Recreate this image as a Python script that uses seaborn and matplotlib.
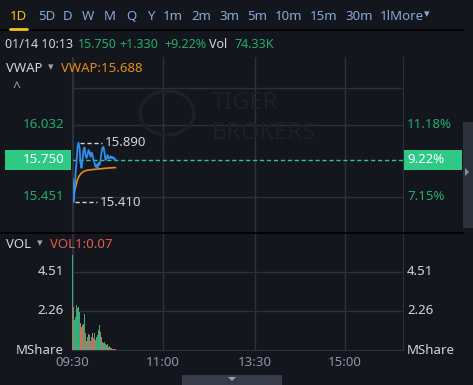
import numpy as np
import pandas as pd
import matplotlib
matplotlib.use("Agg")
import matplotlib.pyplot as plt
import seaborn as sns
from matplotlib.lines import Line2D
from matplotlib.patches import Rectangle, Circle, Polygon

W, H = 473, 385
BG = "#13161c"
GRID = "#2a313b"
TXT = "#d2d5da"
GREEN_TXT = "#22ad6c"
GREEN_BOX = "#2ec985"
GREEN_BAR = "#26c07b"
RED = "#e85a4d"
BLUE = "#2d8ef0"
ORANGE = "#e38d17"
TICKC = "#8c96a8"

# minute index from 09:30
minutes = list(range(44))
price = [15.60, 15.41, 15.49, 15.63, 15.73, 15.85, 15.89, 15.85, 15.73, 15.685,
         15.75, 15.83, 15.85, 15.79, 15.765, 15.79, 15.83, 15.81, 15.775, 15.81,
         15.79, 15.75, 15.725, 15.695, 15.71, 15.685, 15.725, 15.71, 15.75, 15.81,
         15.85, 15.855, 15.81, 15.75, 15.765, 15.79, 15.76, 15.765, 15.78, 15.765,
         15.775, 15.76, 15.765, 15.75]
vwap = [15.60, 15.51, 15.50, 15.53, 15.56, 15.59, 15.61, 15.625, 15.635, 15.645,
        15.65, 15.655, 15.66, 15.663, 15.665, 15.667, 15.668, 15.669, 15.670, 15.671,
        15.672, 15.673, 15.674, 15.675, 15.675, 15.676, 15.677, 15.678, 15.679, 15.679,
        15.680, 15.681, 15.682, 15.683, 15.683, 15.684, 15.685, 15.685, 15.686, 15.686,
        15.687, 15.687, 15.688, 15.688]
volume = [5.48, 2.48, 1.73, 1.90, 2.60, 2.42, 2.48, 2.19, 1.56, 1.33,
          1.44, 1.50, 2.08, 0.98, 0.52, 0.75, 0.92, 0.87, 0.52, 0.75,
          0.98, 0.69, 0.98, 0.58, 0.75, 0.87, 1.15, 1.44, 1.04, 0.75,
          0.46, 0.40, 0.44, 0.35, 0.29, 0.32, 0.17, 0.23, 0.12, 0.12,
          0.06, 0.06, 0.04, 0.03]
direction = ["up", "down", "up", "up", "up", "up", "up", "up", "down", "down",
             "up", "down", "up", "down", "down", "up", "down", "up", "down", "up",
             "down", "down", "up", "down", "up", "up", "up", "up", "down", "up",
             "up", "down", "up", "up", "down", "up", "down", "up", "down", "up",
             "down", "down", "down", "down"]

time_ticks = [0, 90, 182, 272]
time_labels = ["09:30", "11:00", "13:30", "15:00"]
price_grid = [16.331, 16.032, 15.451]
price_labels = [16.032, 15.451]
vol_ticks = [2.26, 4.51]
prev_close = 14.42
last_price = 15.750

tabs = ["5D", "D", "W", "M", "Q", "Y", "1m", "2m", "3m", "5m", "10m", "15m", "30m", "1lMore"]
tab_x = [38, 63, 82, 104, 126, 147, 163, 191, 219, 247, 275, 310, 345, 380]

sns.set_style("dark", {"axes.facecolor": BG, "figure.facecolor": BG})
plt.rcParams["font.family"] = ["Noto Sans", "DejaVu Sans"]

fig = plt.figure(figsize=(W / 100, H / 100), dpi=100, facecolor=BG)


def box(x0, y0, x1, y1):
    return [x0 / W, 1 - y1 / H, (x1 - x0) / W, (y1 - y0) / H]


def t(x, y, s, **kw):
    kw.setdefault("va", "center")
    kw.setdefault("color", TXT)
    kw.setdefault("fontsize", 9.5)
    fig.text(x / W, 1 - y / H, s, **kw)


def hline(x0, x1, y, color, lw=1.0):
    fig.add_artist(Line2D([x0 / W, x1 / W], [1 - y / H, 1 - y / H], color=color, lw=lw))


# watermark
fig.add_artist(Circle((167 / W, 1 - 113 / H), 27 / W, transform=fig.transFigure,
                      fill=False, ec="#1c2027", lw=2.5))
t(212, 103, "TIGER", color="#1c2027", fontsize=17, fontweight="bold")
t(212, 133, "BROKERS", color="#1c2027", fontsize=17, fontweight="bold")

ax = fig.add_axes(box(72, 57, 403, 233))
axv = fig.add_axes(box(72, 233, 403, 350))

# volume bars first (categorical positions 0..43 == minute index)
vol_df = pd.DataFrame({"minute": minutes, "vol": volume, "dir": direction})
sns.barplot(data=vol_df, x="minute", y="vol", hue="dir",
            palette={"up": GREEN_BAR, "down": RED}, dodge=False, width=1.0,
            errorbar=None, legend=False, linewidth=0, ax=axv, zorder=3)

for a in (ax, axv):
    a.set_facecolor("none")
    a.set_xlim(-0.5, 330.5)
    a.set_xticks(time_ticks)
    a.grid(True, color=GRID, lw=1)
    a.tick_params(length=0)
    for side in ["top", "bottom", "left", "right"]:
        a.spines[side].set_visible(False)
    a.spines["left"].set_visible(True)
    a.spines["right"].set_visible(True)
    a.spines["left"].set_color(GRID)
    a.spines["right"].set_color(GRID)
    a.set_axisbelow(True)

# price panel
ax.set_ylim(15.160, 16.581)
ax.set_yticks(price_grid)
ax.set_yticklabels([])
ax.set_xticklabels([])
ax.axhline(last_price, color=GREEN_BOX, lw=1, ls=(0, (3, 2)))
sns.lineplot(x=minutes, y=vwap, ax=ax, color=ORANGE, lw=1.2)
sns.lineplot(x=minutes, y=price, ax=ax, color=BLUE, lw=1.3)
ax.set_xlabel("")
ax.set_ylabel("")

ytr = ax.get_yaxis_transform()
for v in price_labels:
    ax.text(-0.024, v, f"{v:.3f}", transform=ytr, ha="right", va="center",
            color=GREEN_TXT, fontsize=9.5, clip_on=False)
    ax.text(1.012, v, f"{(v / prev_close - 1) * 100:.2f}%", transform=ytr,
            ha="left", va="center", color=GREEN_TXT, fontsize=9.5, clip_on=False)

ax.add_patch(Rectangle((-0.2024, last_price - 0.08), 0.1994, 0.16, transform=ytr,
                       color=GREEN_BOX, clip_on=False, lw=0))
ax.text(-0.024, last_price, f"{last_price:.3f}", transform=ytr, ha="right",
        va="center", color="white", fontsize=9.5, clip_on=False)
ax.add_patch(Rectangle((1.003, last_price - 0.08), 0.175, 0.16, transform=ytr,
                       color=GREEN_BOX, clip_on=False, lw=0))
ax.text(1.012, last_price, f"{(last_price / prev_close - 1) * 100:.2f}%",
        transform=ytr, ha="left", va="center", color="white", fontsize=9.5,
        clip_on=False)

imax, imin = int(np.argmax(price)), int(np.argmin(price))
for i in (imax, imin):
    ax.plot([i + 1, i + 23], [price[i], price[i]], color=TXT, lw=1, ls=(0, (3, 2)))
    ax.text(i + 26, price[i], f"{price[i]:.3f}", color=TXT, fontsize=9.5,
            ha="left", va="center")

# volume panel
axv.set_ylim(0, 6.75)
axv.set_yticks(vol_ticks)
axv.set_yticklabels([])
axv.set_xticks(time_ticks)
axv.set_xticklabels(time_labels, color=TICKC, fontsize=9.5)
axv.tick_params(axis="x", pad=4)
axv.spines["bottom"].set_visible(True)
axv.spines["bottom"].set_color(GRID)
axv.set_xlabel("")
axv.set_ylabel("")

vtr = axv.get_yaxis_transform()
for v in vol_ticks:
    axv.text(-0.024, v, f"{v:.2f}", transform=vtr, ha="right", va="center",
             color=TXT, fontsize=9.5)
    axv.text(1.012, v, f"{v:.2f}", transform=vtr, ha="left", va="center",
             color=TXT, fontsize=9.5)
axv.text(-0.024, 0, "MShare", transform=vtr, ha="right", va="center", color=TXT, fontsize=9.5)
axv.text(1.012, 0, "MShare", transform=vtr, ha="left", va="center", color=TXT, fontsize=9.5)

# separators
hline(0, 463, 30, "#000000", 1.2)
hline(0, 463, 233, "#000000", 1.2)

# header tabs
t(10, 16, "1D", color="#f5c518", fontsize=9.5, fontweight="bold")
fig.add_artist(Line2D([10 / W, 27 / W], [1 - 29 / H] * 2, color="#f5c518", lw=2))
for s, x in zip(tabs, tab_x):
    t(x, 16, s, color="#86a9d8", fontsize=9.5)
t(424, 15, "▾", color="#86a9d8", fontsize=8)

# quote row
t(5, 44, "01/14 10:13", fontsize=9)
t(78, 44, "15.750", color=GREEN_TXT, fontsize=9)
t(119, 44, "+1.330", color=GREEN_TXT, fontsize=9)
t(164, 44, "+9.22%", color=GREEN_TXT, fontsize=9)
t(209, 44, "Vol", fontsize=9)
t(234, 44, "74.33K", color=GREEN_TXT, fontsize=9)

# indicator labels
t(6, 68, "VWAP", fontsize=9.5)
t(48, 68, "▾", color="#9aa0aa", fontsize=8)
t(61, 68, "VWAP:15.688", color=ORANGE, fontsize=9.5)
t(12, 88, "^", color="#9aa0aa", fontsize=10)
t(6, 244, "VOL", fontsize=9.5)
t(37, 244, "▾", color="#9aa0aa", fontsize=8)
t(50, 244, "VOL1:0.07", color=RED, fontsize=9.5)

# side scroller and bottom handle
fig.add_artist(Rectangle((463 / W, 1 - 228 / H), 10 / W, 106 / H,
                         transform=fig.transFigure, color="#2c323c", lw=0))
fig.add_artist(Polygon([[465 / W, 1 - 168 / H], [465 / W, 1 - 176 / H], [469 / W, 1 - 172 / H]],
                       closed=True, transform=fig.transFigure, color="#8a8f99", lw=0))
fig.add_artist(Rectangle((182 / W, 0), 100 / W, 10 / H,
                         transform=fig.transFigure, color="#363d49", lw=0))
fig.add_artist(Polygon([[228 / W, 1 - 377 / H], [236 / W, 1 - 377 / H], [232 / W, 1 - 381 / H]],
                       closed=True, transform=fig.transFigure, color="#9aa0aa", lw=0))

fig.savefig("out.png", dpi=100, facecolor=BG)
